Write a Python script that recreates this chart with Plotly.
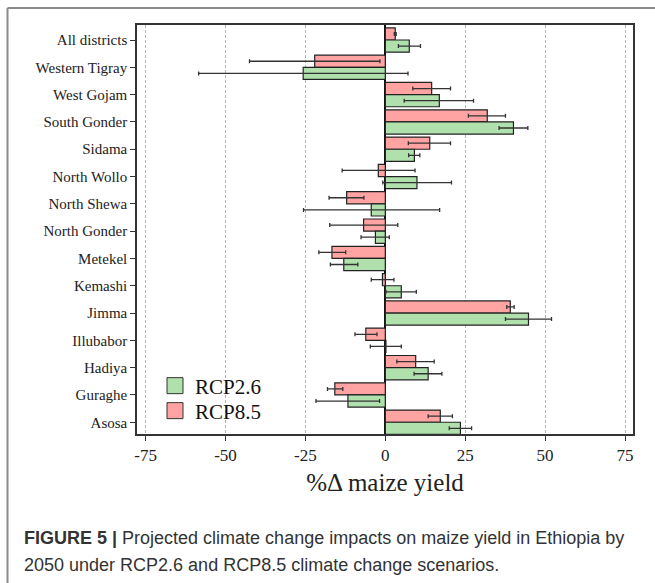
import plotly.graph_objects as go

categories = ["All districts", "Western Tigray", "West Gojam", "South Gonder", "Sidama",
              "North Wollo", "North Shewa", "North Gonder", "Metekel", "Kemashi",
              "Jimma", "Illubabor", "Hadiya", "Guraghe", "Asosa"]

rcp26 = [7.5, -25.7, 16.9, 40.1, 9.1, 9.9, -4.4, -3.1, -13.0, 5.0, 44.8, 0.2, 13.4, -11.7, 23.5]
rcp26_lo = [4.1, -58.4, 5.9, 35.6, 7.3, -0.8, -25.6, -7.6, -17.2, 0.2, 37.6, -4.7, 9.0, -21.7, 20.0]
rcp26_hi = [11.0, 7.1, 27.6, 44.6, 10.8, 20.7, 17.0, 1.25, -8.6, 9.7, 52.0, 5.0, 17.7, -1.8, 27.0]

rcp85 = [3.1, -22.1, 14.5, 31.9, 13.9, -2.2, -12.1, -6.8, -16.7, -0.9, 39.1, -6.1, 9.5, -15.8, 17.2]
rcp85_lo = [2.8, -42.5, 8.6, 26.0, 7.2, -13.5, -17.6, -17.4, -20.8, -4.4, 38.0, -9.5, 3.6, -18.1, 13.4]
rcp85_hi = [3.4, -1.7, 20.4, 37.6, 20.4, 9.3, -6.7, 3.9, -12.4, 2.7, 40.3, -2.6, 15.3, -13.3, 21.0]

x_ticks = [-75, -50, -25, 0, 25, 50, 75]

GREEN = "#b0e0ac"
RED = "#ffa3a3"
SERIF = "Liberation Serif, Times New Roman, serif"
SANS = "Liberation Sans, Arial, sans-serif"

def err(v, lo, hi):
    return dict(type="data", symmetric=False,
                array=[h - a for a, h in zip(v, hi)],
                arrayminus=[a - l for a, l in zip(v, lo)],
                color="#333333", thickness=1.3, width=2)

fig = go.Figure()
fig.add_trace(go.Bar(y=categories, x=rcp85, orientation="h", name="RCP8.5",
                     marker=dict(color=RED, line=dict(color="#222222", width=1.2)),
                     error_x=err(rcp85, rcp85_lo, rcp85_hi), showlegend=False))
fig.add_trace(go.Bar(y=categories, x=rcp26, orientation="h", name="RCP2.6",
                     marker=dict(color=GREEN, line=dict(color="#222222", width=1.2)),
                     error_x=err(rcp26, rcp26_lo, rcp26_hi), showlegend=False))
# legend entries
fig.add_trace(go.Scatter(x=[None], y=[None], mode="markers", name="RCP2.6", legend="legend",
                         marker=dict(symbol="square", size=16, color=GREEN,
                                     line=dict(color="#333333", width=1))))
fig.add_trace(go.Scatter(x=[None], y=[None], mode="markers", name="RCP8.5", legend="legend2",
                         marker=dict(symbol="square", size=16, color=RED,
                                     line=dict(color="#333333", width=1))))

# plot area in pixels
L, R, T, B = 137, 633, 25, 434
W, H = R - L, B - T
def px(xp):
    return (xp - L) / W
def py(yp):
    return (B - yp) / H

legend_style = dict(xanchor="left", yanchor="middle", bgcolor="rgba(0,0,0,0)",
                    font=dict(family=SERIF, size=21, color="#111111"), itemwidth=30)

fig.update_layout(
    width=655, height=583,
    margin=dict(l=L, r=655 - R, t=T, b=583 - B),
    paper_bgcolor="white", plot_bgcolor="white",
    barmode="group", bargap=0.11, bargroupgap=0,
    font=dict(family=SERIF, color="#222222"),
    legend=dict(x=px(155), y=py(386), **legend_style),
    legend2=dict(x=px(155), y=py(411), **legend_style),
    xaxis=dict(range=[-77.7, 77.5], tickvals=x_ticks, ticktext=[str(t) for t in x_ticks],
               showgrid=True, gridcolor="#b5b5b5", griddash="3px,2px", gridwidth=1,
               zeroline=True, zerolinecolor="#111111", zerolinewidth=1.5,
               showline=True, linecolor="#333333", linewidth=1.5, mirror=True,
               ticks="outside", ticklen=5, tickcolor="#333333",
               tickfont=dict(family=SERIF, size=17, color="#222222"),
               title=dict(text="%Δ maize yield", standoff=9,
                          font=dict(family=SERIF, size=25, color="#222222"))),
    yaxis=dict(categoryorder="array", categoryarray=categories,
               range=[14.43, -0.55], showgrid=False, zeroline=False,
               showline=True, linecolor="#333333", linewidth=1.5, mirror=True,
               ticks="outside", ticklen=5, tickcolor="#333333",
               tickfont=dict(family=SERIF, size=15, color="#222222")),
    shapes=[
        dict(type="line", xref="paper", yref="paper", x0=px(7.5), x1=px(7.5),
             y0=py(8), y1=py(600), line=dict(color="#8a8a8a", width=2)),
        dict(type="line", xref="paper", yref="paper", x0=px(7.5), x1=px(670),
             y0=py(8), y1=py(8), line=dict(color="#8a8a8a", width=2)),
    ],
    annotations=[
        dict(xref="paper", yref="paper", x=px(22), y=py(538), xanchor="left", yanchor="middle",
             showarrow=False, align="left",
             text="<b>FIGURE 5 |</b> Projected climate change impacts on maize yield in Ethiopia by",
             font=dict(family=SANS, size=18, color="#333333")),
        dict(xref="paper", yref="paper", x=px(22), y=py(565), xanchor="left", yanchor="middle",
             showarrow=False, align="left",
             text="2050 under RCP2.6 and RCP8.5 climate change scenarios.",
             font=dict(family=SANS, size=18, color="#333333")),
    ],
)

fig.write_html("out.html")
